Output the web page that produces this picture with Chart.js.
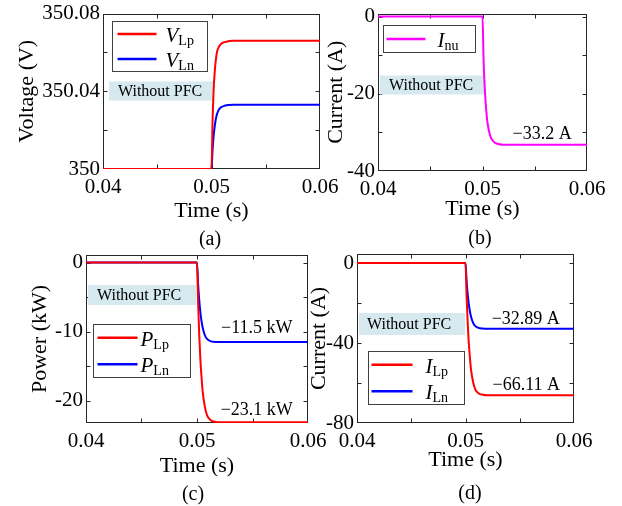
<!DOCTYPE html>
<html>
<head>
<meta charset="utf-8">
<script src="https://cdn.jsdelivr.net/npm/chart.js@4.4.1/dist/chart.umd.min.js"></script>
<style>
  body { margin: 0; background: #fff; }
  #wrap { position: relative; width: 622px; height: 506px; overflow: hidden; }
  #wrap canvas { position: absolute; left: 0; top: 0; }
  .cap { position: absolute; font: 20px "Liberation Serif", "Times New Roman", serif; color: #000;
         transform: translate(-50%, -50%); white-space: nowrap; }
</style>
</head>
<body>
<div id="wrap">
  <canvas id="chartA" width="622" height="506"></canvas>
  <canvas id="chartB" width="622" height="506"></canvas>
  <canvas id="chartC" width="622" height="506"></canvas>
  <canvas id="chartD" width="622" height="506"></canvas>
  <div class="cap" style="left:210px;top:238px">(a)</div>
  <div class="cap" style="left:480px;top:237px">(b)</div>
  <div class="cap" style="left:193px;top:493px">(c)</div>
  <div class="cap" style="left:470px;top:492px">(d)</div>
</div>
<script>
// time samples (s), shared by all four plots
var timeS = [0.04, 0.05, 0.0501, 0.0502, 0.0503, 0.0504, 0.0505, 0.0507, 0.0509, 0.0512, 0.0516, 0.052, 0.06];

// (a) line voltages (V)
var vLp = [350, 350, 350.0251, 350.0409, 350.0502, 350.0561, 350.0601, 350.0630, 350.0644, 350.0653, 350.0658, 350.066, 350.066];
var vLn = [350, 350, 350.0099, 350.0172, 350.0221, 350.0257, 350.0281, 350.0307, 350.0318, 350.0325, 350.0329, 350.033, 350.033];
// (b) neutral current (A)
var iNu = [0, 0, -10.96, -17.6, -22.24, -25.56, -27.89, -30.54, -31.87, -32.70, -33.07, -33.2, -33.2];
// (c) line powers (kW)
var pLp = [0, 0, -5.78, -10.40, -13.86, -16.40, -18.48, -20.79, -22.06, -22.75, -23.01, -23.1, -23.1];
var pLn = [0, 0, -3.1, -5.4, -7.13, -8.4, -9.32, -10.47, -11.04, -11.35, -11.47, -11.5, -11.5];
// (d) line currents (A)
var iLp = [0, 0, -16.53, -29.75, -39.67, -46.94, -52.89, -59.50, -63.14, -65.12, -65.85, -66.11, -66.11];
var iLn = [0, 0, -8.88, -15.46, -20.39, -24.01, -26.64, -29.93, -31.57, -32.46, -32.79, -32.89, -32.89];

// axis ranges
var xRange = [0.04, 0.06];
var yRangeA = [350, 350.08];
var yRangeB = [-40, 0.8];
var yRangeC = [-23.2, 1.1];
var yRangeD = [-80, 4.5];

var SERIF = '"Liberation Serif", "Times New Roman", serif';
Chart.defaults.font.family = SERIF;
Chart.defaults.color = '#000';

function last(arr) { return arr[arr.length - 1]; }
function minusText(v, unit) { return '\u2212' + Math.abs(v) + ' ' + unit; }

function pts(ys) {
  return timeS.map(function (t, i) { return { x: t, y: ys[i] }; });
}

function series(label, ys, color) {
  return {
    label: label,
    data: pts(ys),
    borderColor: color,
    backgroundColor: color,
    borderWidth: 2,
    pointRadius: 0,
    fill: false,
    cubicInterpolationMode: 'monotone'
  };
}

// MATLAB-like frame with inward ticks, legend with subscripts and notes
var matlabBox = {
  id: 'matlabBox',
  beforeDatasetsDraw: function (chart, args, opts) {
    var a = chart.chartArea, ctx = chart.ctx, n = opts.note;
    var xs = chart.scales.x, ys = chart.scales.y;
    ctx.save();

    // frame
    var L = Math.round(a.left) + 0.5, R = Math.round(a.right) - 0.5;
    var T = Math.round(a.top) + 0.5, B = Math.round(a.bottom) - 0.5;
    ctx.strokeStyle = '#262626';
    ctx.lineWidth = 1;
    ctx.strokeRect(L, T, R - L, B - T);

    // ticks pointing into the plot on all four sides
    var tl = 4;
    ctx.beginPath();
    xs.ticks.forEach(function (t) {
      var px = Math.round(xs.getPixelForValue(t.value)) + 0.5;
      if (px <= L + 1 || px >= R - 1) return;
      ctx.moveTo(px, B); ctx.lineTo(px, B - tl);
      ctx.moveTo(px, T); ctx.lineTo(px, T + tl);
    });
    ys.ticks.forEach(function (t) {
      var py = Math.round(ys.getPixelForValue(t.value)) + 0.5;
      if (py <= T + 1 || py >= B - 1) return;
      ctx.moveTo(L, py); ctx.lineTo(L + tl, py);
      ctx.moveTo(R, py); ctx.lineTo(R - tl, py);
    });
    ctx.stroke();

    if (n) {
      ctx.fillStyle = '#d5e9ef';
      ctx.fillRect(a.left + n.x, a.top + n.y, n.w, n.h);
      ctx.fillStyle = '#000';
      ctx.font = '16px ' + SERIF;
      ctx.textBaseline = 'middle';
      ctx.textAlign = 'left';
      ctx.fillText('Without PFC', a.left + n.x + n.pad, a.top + n.y + n.h / 2 + 1);
    }
    ctx.restore();
  },
  afterDatasetsDraw: function (chart, args, opts) {
    var a = chart.chartArea, ctx = chart.ctx;
    var xs = chart.scales.x, ys = chart.scales.y;
    ctx.save();

    // value labels above the settled lines
    ctx.fillStyle = '#000';
    ctx.font = '18px ' + SERIF;
    ctx.textAlign = 'center';
    ctx.textBaseline = 'middle';
    (opts.values || []).forEach(function (v) {
      ctx.fillText(minusText(v.v, v.unit), xs.getPixelForValue(v.t), ys.getPixelForValue(v.v) + v.dy);
    });

    // legend
    var lg = opts.legend;
    if (lg) {
      var bx = Math.round(a.left + lg.x) + 0.5, by = Math.round(a.top + lg.y) + 0.5;
      ctx.fillStyle = '#fff';
      ctx.fillRect(bx, by, lg.w, lg.h);
      ctx.strokeStyle = '#404040';
      ctx.lineWidth = 1;
      ctx.strokeRect(bx, by, lg.w, lg.h);
      var sets = chart.data.datasets;
      sets.forEach(function (ds, i) {
        var ry = by + lg.h * (2 * i + 1) / (2 * sets.length);
        ctx.strokeStyle = ds.borderColor;
        ctx.lineWidth = 2.5;
        ctx.beginPath();
        ctx.moveTo(bx + lg.lineX, ry);
        ctx.lineTo(bx + lg.lineX + lg.lineLen, ry);
        ctx.stroke();
        var parts = ds.label.split('_');
        ctx.fillStyle = '#000';
        ctx.textAlign = 'left';
        ctx.textBaseline = 'alphabetic';
        ctx.font = 'italic 21px ' + SERIF;
        ctx.fillText(parts[0], bx + lg.textX, ry + 8);
        var w = ctx.measureText(parts[0]).width;
        ctx.font = '14px ' + SERIF;
        ctx.fillText(parts[1], bx + lg.textX + w, ry + 11);
      });
    }
    ctx.restore();
  }
};

// one panel; plot box given in page pixels
function makePanel(id, box, yTitle, yRange, yStep, yLabelEvery, datasets, extra) {
  var yW = box.left - box.yTitleX + 13.2;
  var xH = box.xTitleY + 13.2 - box.bottom;
  return new Chart(document.getElementById(id), {
    type: 'line',
    data: { datasets: datasets },
    options: {
      responsive: false,
      animation: false,
      events: [],
      layout: {
        padding: {
          left: box.left - yW,
          top: box.top,
          right: 622 - box.right,
          bottom: 506 - box.bottom - xH
        }
      },
      scales: {
        x: {
          type: 'linear',
          min: xRange[0],
          max: xRange[1],
          grid: { display: false, drawTicks: false },
          border: { display: false },
          ticks: {
            stepSize: 0.005,
            autoSkip: false,
            maxRotation: 0,
            padding: 8,
            font: { size: 21, lineHeight: 1 },
            color: '#000',
            callback: function (v) {
              return Math.abs(v * 100 - Math.round(v * 100)) < 1e-6 ? v.toFixed(2) : '';
            }
          },
          title: { display: true, text: 'Time (s)', font: { size: 22 }, padding: 0, color: '#000' },
          afterFit: function (s) { s.height = xH; }
        },
        y: {
          type: 'linear',
          min: yRange[0],
          max: yRange[1],
          grid: { display: false, drawTicks: false },
          border: { display: false },
          ticks: {
            stepSize: yStep,
            includeBounds: false,
            autoSkip: false,
            padding: 3,
            font: { size: 21, lineHeight: 1 },
            color: '#000',
            callback: function (v) {
              var k = v / yLabelEvery;
              if (Math.abs(k - Math.round(k)) > 1e-6) return '';
              return String(Math.round(v * 100) / 100);
            }
          },
          title: { display: true, text: yTitle, font: { size: 22 }, padding: 0, color: '#000' },
          afterFit: function (s) { s.width = yW; }
        }
      },
      plugins: {
        legend: { display: false },
        tooltip: { enabled: false },
        matlabBox: extra
      }
    },
    plugins: [matlabBox]
  });
}

makePanel('chartA',
  { left: 103, top: 13, right: 320, bottom: 169, yTitleX: 27, xTitleY: 211 },
  'Voltage (V)', yRangeA, 0.02, 0.04,
  [series('V_Lp', vLp, '#ff0000'), series('V_Ln', vLn, '#0000ff')],
  {
    note: { x: 6, y: 68, w: 104, h: 19, pad: 9 },
    legend: { x: 9, y: 7, w: 95, h: 50, lineX: 5, lineLen: 39, textX: 53 }
  });

makePanel('chartB',
  { left: 378, top: 11, right: 587, bottom: 171, yTitleX: 336, xTitleY: 209 },
  'Current (A)', yRangeB, 10, 20,
  [series('I_nu', iNu, '#ff00ff')],
  {
    note: { x: 2, y: 62, w: 105, h: 19, pad: 9 },
    legend: { x: 5, y: 11, w: 92, h: 27, lineX: 3, lineLen: 39, textX: 54 },
    values: [{ t: 0.0557, v: last(iNu), unit: 'A', dy: -10 }]
  });

makePanel('chartC',
  { left: 86, top: 255, right: 308, bottom: 423, yTitleX: 40, xTitleY: 466 },
  'Power (kW)', yRangeC, 5, 10,
  [series('P_Lp', pLp, '#ff0000'), series('P_Ln', pLn, '#0000ff')],
  {
    note: { x: 2, y: 30, w: 108, h: 20, pad: 9 },
    legend: { x: 7, y: 69, w: 97, h: 53, lineX: 4, lineLen: 40, textX: 47 },
    values: [
      { t: 0.05538, v: last(pLn), unit: 'kW', dy: -14 },
      { t: 0.05538, v: last(pLp), unit: 'kW', dy: -12 }
    ]
  });

makePanel('chartD',
  { left: 357, top: 254, right: 574, bottom: 423, yTitleX: 319, xTitleY: 460 },
  'Current (A)', yRangeD, 20, 40,
  [series('I_Lp', iLp, '#ff0000'), series('I_Ln', iLn, '#0000ff')],
  {
    note: { x: 2, y: 59, w: 106, h: 22, pad: 8 },
    legend: { x: 11, y: 97, w: 96, h: 53, lineX: 3, lineLen: 41, textX: 57 },
    values: [
      { t: 0.05555, v: last(iLn), unit: 'A', dy: -10 },
      { t: 0.0556, v: last(iLp), unit: 'A', dy: -10 }
    ]
  });
</script>
</body>
</html>
